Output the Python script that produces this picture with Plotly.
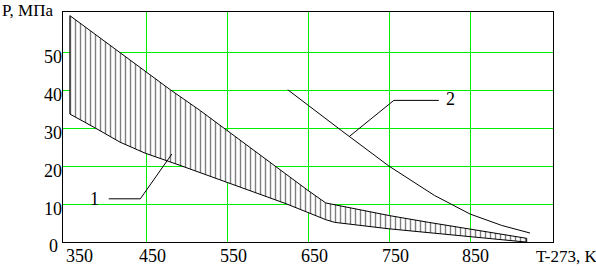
import plotly.graph_objects as go

# Region 1 (hatched band): upper and lower boundaries
band_upper_x = [356, 416, 480, 517, 550, 607, 650, 672, 750, 799, 850, 920]
band_upper_y = [59.7, 50.3, 40.2, 34.7, 29.5, 20.3, 13.7, 10.4, 7.1, 5.3, 3.6, 1.1]
band_lower_x = [356, 386, 418, 449, 492, 550, 623, 672, 683, 750, 799, 850, 920]
band_lower_y = [33.8, 30.3, 26.4, 23.5, 20.3, 15.9, 10.2, 6.0, 5.3, 3.6, 2.7, 1.5, 0.1]

# Curve 2
curve2_x = [625, 650, 691, 750, 806, 850, 889, 924]
curve2_y = [40.2, 36.1, 29.5, 20.1, 12.4, 7.5, 4.5, 2.5]

# Callout labels and leader lines
label1_text = "1"
label1_pos = (386.5, 11.6)
leader1_x = [404, 443, 482]
leader1_y = [11.5, 11.5, 23.3]
label2_text = "2"
label2_pos = (825.7, 37.8)
leader2_x = [811.5, 756, 701]
leader2_y = [37.4, 37.4, 27.9]

# Axes
x_ticks = [350, 450, 550, 650, 750, 850]
x_tick_labels = ["350", "450", "550", "650", "750", "850"]
y_ticks = [10, 20, 30, 40, 50]
y_tick_labels = ["10", "20", "30", "40", "50"]
y_origin_label = "0"
x_grid = [450, 550, 650, 750, 850]
y_grid = [10, 20, 30, 40, 50]
x_range = [347.53, 952.47]
y_range = [0.1316, 60.6579]
x_title = "T-273, K"
y_title = "P, МПа"

FONT = "Liberation Serif"
GRID = "#00ee00"

fig = go.Figure()

poly_x = band_upper_x + band_lower_x[::-1] + [band_upper_x[0]]
poly_y = band_upper_y + band_lower_y[::-1] + [band_upper_y[0]]
fig.add_trace(go.Scatter(
    x=poly_x, y=poly_y, mode="lines", fill="toself",
    fillcolor="rgba(255,255,255,0)",
    fillpattern=dict(shape="|", size=5, solidity=0.28, fgcolor="black", bgcolor="white"),
    line=dict(color="black", width=1), hoverinfo="skip", showlegend=False,
))
fig.add_trace(go.Scatter(x=curve2_x, y=curve2_y, mode="lines",
                         line=dict(color="black", width=1), showlegend=False))
fig.add_trace(go.Scatter(x=leader1_x, y=leader1_y, mode="lines",
                         line=dict(color="black", width=1), showlegend=False))
fig.add_trace(go.Scatter(x=leader2_x, y=leader2_y, mode="lines",
                         line=dict(color="black", width=1), showlegend=False))

ann = []
ann.append(dict(x=label1_pos[0], y=label1_pos[1], xref="x", yref="y", text=label1_text,
                showarrow=False, yshift=-1, font=dict(family=FONT, size=18, color="black")))
ann.append(dict(x=label2_pos[0], y=label2_pos[1], xref="x", yref="y", text=label2_text,
                showarrow=False, font=dict(family=FONT, size=18, color="black")))

x_shift = {350: 14, 850: 5}
for v, t in zip(x_ticks, x_tick_labels):
    ann.append(dict(x=v, y=0, xref="x", yref="paper", text=t, showarrow=False,
                    xanchor="center", yanchor="middle", xshift=x_shift.get(v, 6), yshift=-14,
                    font=dict(family=FONT, size=18, color="black")))
for v, t in zip(y_ticks, y_tick_labels):
    ann.append(dict(x=0, y=v, xref="paper", yref="y", text=t, showarrow=False,
                    xanchor="right", yanchor="middle", xshift=1, yshift=-4,
                    font=dict(family=FONT, size=18, color="black")))
ann.append(dict(x=0, y=0, xref="paper", yref="paper", text=y_origin_label, showarrow=False,
                xanchor="right", yanchor="middle", xshift=-3, yshift=-4,
                font=dict(family=FONT, size=18, color="black")))
ann.append(dict(x=0, y=1, xref="paper", yref="paper", text=y_title, showarrow=False,
                xanchor="left", yanchor="middle", xshift=-63, yshift=2,
                font=dict(family=FONT, size=17, color="black")))
ann.append(dict(x=1, y=0, xref="paper", yref="paper", text=x_title, showarrow=False,
                xanchor="left", yanchor="middle", xshift=-19, yshift=-14,
                font=dict(family=FONT, size=17, color="black")))

fig.update_layout(
    width=596, height=271,
    margin=dict(l=63, r=43, t=12, b=29, pad=0),
    paper_bgcolor="white", plot_bgcolor="white",
    annotations=ann, showlegend=False,
    xaxis=dict(range=x_range, tickvals=x_grid, showticklabels=False,
               showgrid=True, gridcolor=GRID, gridwidth=1, zeroline=False,
               showline=True, linecolor="black", linewidth=1, mirror=True, ticks=""),
    yaxis=dict(range=y_range, tickvals=y_grid, showticklabels=False,
               showgrid=True, gridcolor=GRID, gridwidth=1, zeroline=False,
               showline=True, linecolor="black", linewidth=1, mirror=True, ticks=""),
)

fig.write_html("out.html")
